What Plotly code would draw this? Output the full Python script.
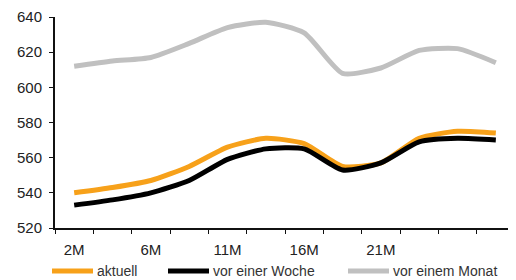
import plotly.graph_objects as go

categories = ["2M", "4M", "6M", "9M", "11M", "14M", "16M", "19M", "21M", "24M", "26M", "29M"]
tick_labels = ["2M", "6M", "11M", "16M", "21M"]
series_names = ["aktuell", "vor einer Woche", "vor einem Monat"]
series_colors = ["#F7A11A", "#000000", "#C0C0C0"]
aktuell = [540, 543, 547, 555, 566, 571, 568, 555, 557, 571, 575, 574]
vor_einer_woche = [533, 536, 540, 547, 559, 565, 565, 553, 557, 569, 571, 570]
vor_einem_monat = [612, 615, 617, 625, 634, 637, 631, 608, 611, 621, 622, 614]
values = [aktuell, vor_einer_woche, vor_einem_monat]

x = list(range(len(categories)))
tickpos = [categories.index(t) for t in tick_labels]

fig = go.Figure()
# draw order: grey (back), orange, black (front)
for i in [2, 0, 1]:
    fig.add_trace(go.Scatter(x=x, y=values[i], name=series_names[i], mode="lines", showlegend=False,
                             line=dict(color=series_colors[i], width=5, shape="spline", smoothing=0.6)))

# legend drawn below the plot (plot area: 460 x 211 px)
PW, PH = 460.0, 211.0
leg_y = -43 / PH
leg_x0 = [-3, 113, 293]   # sample start, px relative to plot left
for i, name in enumerate(series_names):
    x0 = leg_x0[i] / PW
    x1 = (leg_x0[i] + 41) / PW
    fig.add_shape(type="line", xref="paper", yref="paper", x0=x0, x1=x1, y0=leg_y, y1=leg_y,
                  line=dict(color=series_colors[i], width=5))
    fig.add_annotation(xref="paper", yref="paper", x=(leg_x0[i] + 43) / PW, y=leg_y,
                       xanchor="left", yanchor="middle", text=name, showarrow=False,
                       font=dict(size=14, color="#333"))

# page body has an 8px margin: figure is sized/offset so the plot area lands where the reference has it
fig.update_layout(
    width=508, height=272,
    margin=dict(l=47, r=1, t=9, b=52, autoexpand=False),
    paper_bgcolor="white", plot_bgcolor="white",
    font=dict(family="Liberation Sans, Arial, sans-serif", size=15, color="#222"),
    showlegend=False,
    xaxis=dict(range=[-0.5, 11.5], tickvals=tickpos, ticktext=tick_labels,
               ticks="outside", ticklen=7, tickcolor="rgba(0,0,0,0)",
               showgrid=False, zeroline=False, showline=True, linecolor="#111", linewidth=2,
               minor=dict(tickvals=[i - 0.5 for i in range(13)], ticks="outside", ticklen=4,
                          tickcolor="#111", tickwidth=1, showgrid=False),
               tickfont=dict(size=15, color="#222"), fixedrange=True),
    yaxis=dict(range=[520, 640], dtick=20, ticks="outside", ticklen=4, tickcolor="#111",
               ticklabelstandoff=4,
               showgrid=False, zeroline=False, showline=True, linecolor="#111", linewidth=2,
               tickfont=dict(size=15, color="#222"), fixedrange=True),
)

fig.write_html("out.html")
